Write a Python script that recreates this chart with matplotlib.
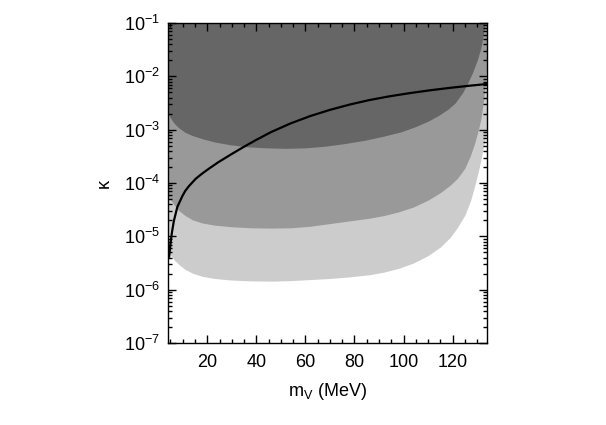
import numpy as np
import matplotlib
matplotlib.use('Agg')
import matplotlib.pyplot as plt
from matplotlib.ticker import MultipleLocator, LogLocator, NullFormatter

plt.rcParams['font.family'] = ['Liberation Sans', 'DejaVu Sans']
plt.rcParams['mathtext.fontset'] = 'custom'
plt.rcParams['mathtext.rm'] = 'Liberation Sans'
plt.rcParams['mathtext.it'] = 'Liberation Sans:italic'

# lower edges of the three shaded regions, x in MeV, y as log10(kappa)
light_x = [4.0, 5.0, 6.5, 8.5, 11, 14, 18, 23, 30, 38, 46, 54, 62, 70, 78,
           86, 92, 98, 104, 110, 115, 119, 122, 125, 127.3, 129, 130.5,
           131.5, 133, 133.8, 135]
light_y = [-5.28, -5.35, -5.44, -5.53, -5.62, -5.69, -5.75, -5.79, -5.82,
           -5.835, -5.84, -5.83, -5.81, -5.79, -5.76, -5.72, -5.67, -5.60,
           -5.50, -5.36, -5.20, -5.02, -4.83, -4.60, -4.33, -4.05, -3.78,
           -3.57, -3.22, -3.00, -2.60]

mid_x = [4.0, 5.0, 6.5, 8.5, 11, 14, 18, 23, 30, 38, 46, 54, 62, 70, 78,
         86, 92, 98, 104, 110, 115, 119, 122, 125, 127.3, 129, 130.5, 131.5,
         132.6, 133.4, 134.0, 134.6, 135]
mid_y = [-4.25, -4.31, -4.41, -4.52, -4.61, -4.69, -4.75, -4.79, -4.82,
         -4.84, -4.845, -4.84, -4.81, -4.76, -4.71, -4.66, -4.61, -4.54,
         -4.45, -4.32, -4.18, -4.04, -3.91, -3.72, -3.48, -3.25, -3.00,
         -2.80, -2.45, -2.10, -1.75, -1.20, -0.80]

dark_x = [4.0, 5.0, 6.5, 8.5, 11, 14, 18, 23, 29, 36, 44, 52, 60, 68, 76,
          84, 92, 99, 105, 110, 114, 118, 121, 124, 126, 128, 130, 131.5,
          132.5, 133.3, 134.2]
dark_y = [-2.69, -2.78, -2.88, -2.97, -3.05, -3.11, -3.17, -3.23, -3.28,
          -3.32, -3.34, -3.35, -3.34, -3.31, -3.26, -3.20, -3.12, -3.04,
          -2.94, -2.84, -2.74, -2.62, -2.50, -2.31, -2.14, -1.94, -1.70,
          -1.47, -1.22, -1.00, -0.70]

# black line
curve_x = [4.5, 5.0, 5.6, 6.4, 7.8, 9.8, 11, 12.5, 15.3, 18, 20.4, 24.5,
           30, 34.6, 40, 46, 53.8, 62, 70, 78.3, 86, 94, 102.7, 111, 119,
           127, 134]
curve_y = [-5.38, -5.14, -4.93, -4.71, -4.45, -4.25, -4.15, -4.06, -3.92,
           -3.82, -3.74, -3.61, -3.455, -3.33, -3.19, -3.045, -2.885,
           -2.744, -2.628, -2.526, -2.445, -2.376, -2.313, -2.26, -2.215,
           -2.175, -2.143]

fig = plt.figure(figsize=(6.06, 4.25), dpi=100)
ax = fig.add_axes([0.2772, 0.1929, 0.5264, 0.7529])
ax.set_yscale('log')

top = 1e-1
ax.fill_between(light_x, 10.0 ** np.array(light_y), top, color='#cccccc', lw=0)
ax.fill_between(mid_x, 10.0 ** np.array(mid_y), top, color='#999999', lw=0)
ax.fill_between(dark_x, 10.0 ** np.array(dark_y), top, color='#666666', lw=0)
ax.plot(curve_x, 10.0 ** np.array(curve_y), color='black', lw=1.6,
        solid_joinstyle='round')

ax.set_xlim(4, 134)
ax.set_ylim(1e-7, 1e-1)

ax.xaxis.set_major_locator(MultipleLocator(20))
ax.xaxis.set_minor_locator(MultipleLocator(5))
ax.yaxis.set_major_locator(LogLocator(base=10, numticks=20))
ax.yaxis.set_minor_locator(LogLocator(base=10, subs=np.arange(2, 10), numticks=20))
ax.yaxis.set_minor_formatter(NullFormatter())

ax.tick_params(which='both', direction='in', top=True, right=True,
               labelsize=13, width=1.0)
ax.tick_params(axis='x', which='major', length=6, pad=8)
ax.tick_params(axis='y', which='major', length=6, pad=6)
ax.tick_params(which='minor', length=3)
for s in ax.spines.values():
    s.set_linewidth(1.0)

ax.set_xlabel('m$_\\mathrm{V}$ (MeV)', fontsize=13, labelpad=7)
ax.set_ylabel('κ', fontsize=13, labelpad=8)

fig.savefig('out.png', dpi=100)
